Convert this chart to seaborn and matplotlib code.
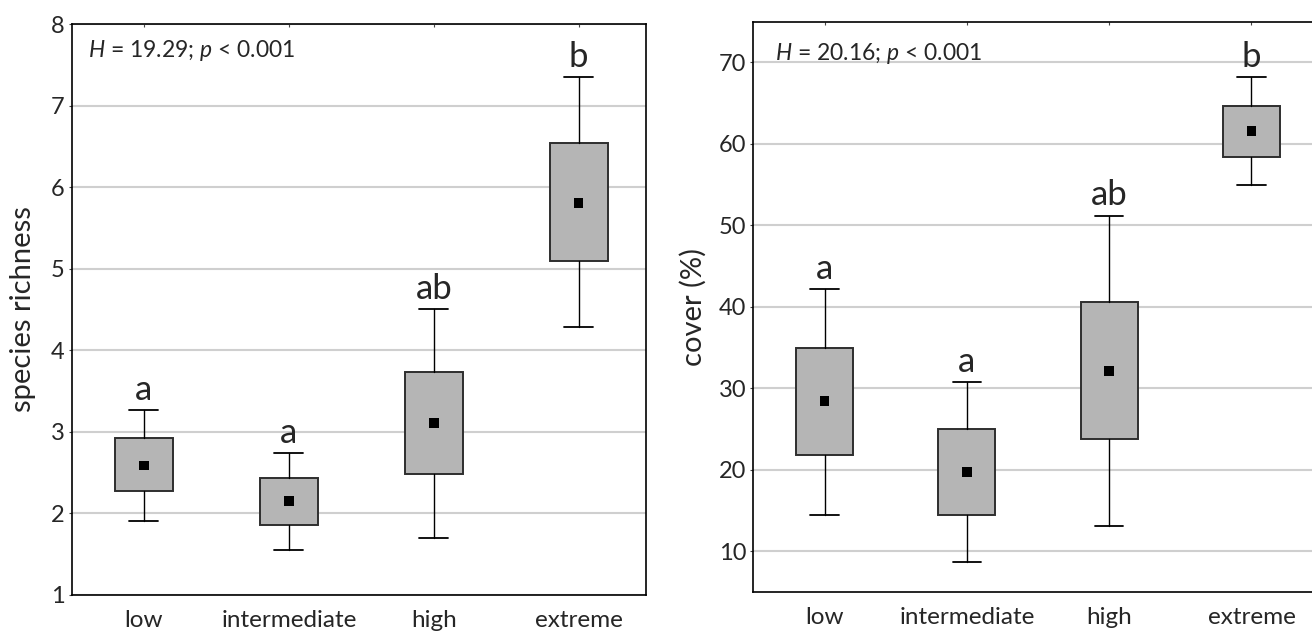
import matplotlib
matplotlib.use('Agg')
import matplotlib.pyplot as plt
import seaborn as sns

groups = ['low', 'intermediate', 'high', 'extreme']

# species richness: mean, box (q1-q3), whiskers (min-max)
rich_mean = [2.59, 2.15, 3.11, 5.81]
rich_q1 = [2.27, 1.86, 2.48, 5.10]
rich_q3 = [2.92, 2.43, 3.73, 6.54]
rich_lo = [1.91, 1.55, 1.70, 4.29]
rich_hi = [3.27, 2.74, 4.51, 7.35]
rich_letters = ['a', 'a', 'ab', 'b']
rich_ticks = [1, 2, 3, 4, 5, 6, 7, 8]

# cover (%)
cover_mean = [28.4, 19.7, 32.1, 61.6]
cover_q1 = [21.8, 14.4, 23.8, 58.4]
cover_q3 = [34.9, 25.0, 40.6, 64.6]
cover_lo = [14.4, 8.7, 13.1, 55.0]
cover_hi = [42.2, 30.8, 51.2, 68.2]
cover_letters = ['a', 'a', 'ab', 'b']
cover_ticks = [10, 20, 30, 40, 50, 60, 70]

sns.set_style('white')
plt.rcParams['font.family'] = ['Lato', 'DejaVu Sans']
plt.rcParams['mathtext.fontset'] = 'custom'
plt.rcParams['mathtext.rm'] = 'Lato'
plt.rcParams['mathtext.it'] = 'Lato:italic'


def draw_panel(ax, mean, q1, q3, lo, hi, letters, ylabel, stat, ylim, yticks, xlim, stat_xy, label_x):
    pos = list(range(len(groups)))
    stats = [{'med': m, 'q1': a, 'q3': b, 'whislo': l, 'whishi': h, 'fliers': []}
             for m, a, b, l, h in zip(mean, q1, q3, lo, hi)]
    ax.bxp(stats, positions=pos, widths=0.4, capwidths=0.2, patch_artist=True,
           showfliers=False, manage_ticks=False,
           boxprops=dict(facecolor='#b5b5b5', edgecolor='#2e2e2e', linewidth=1.4),
           medianprops=dict(linewidth=0),
           whiskerprops=dict(color='black', linewidth=1.0),
           capprops=dict(color='black', linewidth=1.3),
           zorder=3)
    sns.scatterplot(x=pos, y=mean, marker='s', s=48, color='black',
                    edgecolor='none', ax=ax, zorder=4)
    for x, h, t in zip(pos, hi, letters):
        ax.annotate(t, (x, h), xytext=(0, 3), textcoords='offset points',
                    ha='center', va='bottom', fontsize=25)
    ax.set_xlim(*xlim)
    ax.set_ylim(*ylim)
    ax.set_yticks(yticks)
    ax.set_xticks(pos)
    ax.set_xticklabels(groups)
    ax.yaxis.grid(True, color='#cfcfcf', linewidth=1.5)
    ax.set_axisbelow(True)
    ax.tick_params(axis='x', direction='in', length=2, top=True, labelsize=17.5, pad=11,
                   color='#444444')
    ax.tick_params(axis='y', direction='out', length=2, left=True, labelsize=17, pad=3,
                   color='#444444')
    for s in ax.spines.values():
        s.set_color('black')
        s.set_linewidth(1.2)
    ax.set_ylabel(ylabel, fontsize=21)
    ax.yaxis.set_label_coords(label_x, 0.5)
    ax.text(stat_xy[0], stat_xy[1], stat, transform=ax.transAxes,
            fontsize=16.5, ha='left', va='center')


fig = plt.figure(figsize=(13.12, 6.35), dpi=100)
ax1 = fig.add_axes([0.0545, 0.063, 0.4379, 0.899])
ax2 = fig.add_axes([0.5743, 0.068, 0.4338, 0.8978])

draw_panel(ax1, rich_mean, rich_q1, rich_q3, rich_lo, rich_hi, rich_letters,
           'species richness', '$H$ = 19.29; $p$ < 0.001', (1, 8), rich_ticks,
           (-0.5, 3.465), (0.029, 0.953), -0.062)
draw_panel(ax2, cover_mean, cover_q1, cover_q3, cover_lo, cover_hi, cover_letters,
           'cover (%)', '$H$ = 20.16; $p$ < 0.001', (5, 75), cover_ticks,
           (-0.5, 3.5), (0.038, 0.945), -0.083)

fig.savefig('out.png', dpi=100)
